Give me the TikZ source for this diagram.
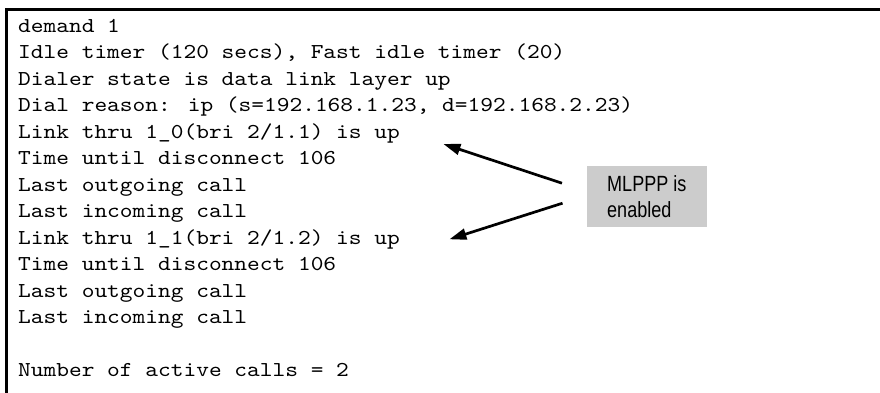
\documentclass[tikz,border=0pt]{standalone}
\usepackage{fontspec}
\newfontfamily\listingfont[FakeStretch=1.143]{lmmono10-regular.otf}
\newfontfamily\calloutfont[FakeStretch=0.82]{Liberation Sans}
\usetikzlibrary{arrows.meta}
\definecolor{calloutgray}{RGB}{204,204,204}
\begin{document}
\begin{tikzpicture}[x=1pt,y=1pt,
  listing/.style={anchor=base west, inner sep=0pt,
    font=\listingfont\fontsize{21.2}{26.5}\selectfont},
  frameline/.style={line width=2.7pt, line join=miter},
  pointer/.style={line width=2.7pt, -{Triangle[length=17pt,width=11pt]}},
  calloutbox/.style={fill=calloutgray, draw=none, anchor=north west,
    minimum width=120pt, minimum height=61pt, inner sep=0pt},
  callouttext/.style={anchor=west, inner sep=0pt, align=left,
    font=\calloutfont\fontsize{22}{26}\selectfont}]

% page area
\path[use as bounding box, fill=white] (0,0) rectangle (880,-393);

% frame: left and top rules
\draw[frameline] (6.2,-393) -- (6.2,-9.5) -- (880,-9.5);

% console listing
\node[listing] (l1)  at (18,-32.5)  {demand 1};
\node[listing] (l2)  at (18,-58.96) {Idle timer (120 secs), Fast idle timer (20)};
\node[listing] (l3)  at (18,-85.42) {Dialer state is data link layer up};
\node[listing] (l4)  at (18,-111.88) {Dial reason: ip (s=192.168.1.23, d=192.168.2.23)};
\node[listing] (l5)  at (18,-138.34) {Link thru 1\_0(bri 2/1.1) is up};
\node[listing] (l6)  at (18,-164.8) {Time until disconnect 106};
\node[listing] (l7)  at (18,-191.26) {Last outgoing call};
\node[listing] (l8)  at (18,-217.72) {Last incoming call};
\node[listing] (l9)  at (18,-244.18) {Link thru 1\_1(bri 2/1.2) is up};
\node[listing] (l10) at (18,-270.64) {Time until disconnect 106};
\node[listing] (l11) at (18,-297.1) {Last outgoing call};
\node[listing] (l12) at (18,-323.56) {Last incoming call};
\node[listing] (l14) at (18,-376.48) {Number of active calls = 2};

% callout
\node[calloutbox] (box) at (587,-166) {};
\node[callouttext] (note) at ([xshift=20pt]box.west) {MLPPP is\\enabled};

% pointers from the callout to the two links
\draw[pointer] ([xshift=-25pt,yshift=13.5pt]box.west) -- ([xshift=43.4pt,yshift=-5.7pt]l5.base east);
\draw[pointer] ([xshift=-24.5pt,yshift=-6.5pt]box.west) -- ([xshift=49.4pt,yshift=4.9pt]l9.base east);
\end{tikzpicture}
\end{document}
